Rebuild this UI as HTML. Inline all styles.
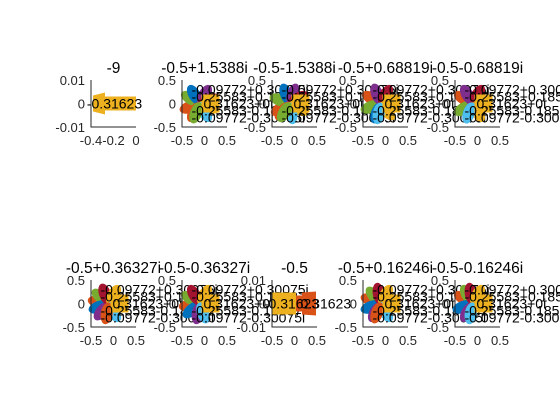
<!DOCTYPE html>
<html><head><meta charset="utf-8"><style>
body{margin:0;background:#fff}
svg{display:block;font-family:"Liberation Sans",sans-serif}
</style></head><body>
<svg id="fig" width="560" height="420" viewBox="0 0 560 420"></svg>
<script>
const titles=["-9","-0.5+1.5388i","-0.5-1.5388i","-0.5+0.68819i","-0.5-0.68819i","-0.5+0.36327i","-0.5-0.36327i","-0.5","-0.5+0.16246i","-0.5-0.16246i"];
const kinds=["bar1","cluster","cluster","cluster","cluster","cluster","cluster","bar2","cluster","cluster"];
const yTickSmall=["0.01","0","-0.01"];
const yTickBig=["0.5","0","-0.5"];
const xTickA=["-0.4","-0.2","0"];
const xTickB=["-0.5","0","0.5"];
const petalAngles=[[200,150,120,60,20,-20,-60,-120,250],[210,160,110,70,30,-30,-80,-130,240],[150,200,250,110,60,-50,-100],[150,210,250,120,60,-60,-110],[170,140,200,230,110,60,-60,-100],[190,150,220,260,120,60,-70],[160,130,200,240,100,60,-60,-110],[150,120,200,240,100,60,-100]];
const labels=["-0.09772+0.30075i","-0.25583+0.18587i","0.31623+0i","-0.25583-0.18587i","-0.09772-0.30075i"];
const colors=["#0072BD","#D95319","#EDB120","#7E2F8E","#77AC30","#4DBEEE","#A2142F"];
const svg=document.getElementById('fig');
const NS="http://www.w3.org/2000/svg";
function mk(t,a,p){const e=document.createElementNS(NS,t);for(const k in a)e.setAttribute(k,a[k]);(p||svg).appendChild(e);return e;}
const colX=[91,182,272,363,455], rowY=[80,280], W=45, H=47;
let ci=0;
titles.forEach((title,i)=>{
  const r=Math.floor(i/5), c=i%5, x0=colX[c], y0=rowY[r];
  const g=mk('g',{});
  
  
  const cx=x0+W/2, cy=y0+H/2;
  const k=kinds[i];
  if(k==="bar1"){
    mk('path',{d:`M${x0+2} ${cy-8} L${x0+14} ${cy-11} L${x0+14} ${cy-7} L${x0+W} ${cy-7} L${x0+W} ${cy+7} L${x0+14} ${cy+7} L${x0+14} ${cy+11} L${x0+2} ${cy+8}Z`,fill:colors[2]},g);
    const t=mk('text',{x:cx+1,y:cy+5,'font-size':14,'text-anchor':'middle',fill:'#000'},g);t.textContent="-0.31623";
  } else if(k==="bar2"){
    mk('path',{d:`M${x0} ${cy-11} L${x0+24} ${cy-11} L${x0+24} ${cy+11} L${x0} ${cy+11}Z`,fill:colors[2]},g);
    mk('path',{d:`M${x0+24} ${cy-8} L${x0+30} ${cy-8} L${x0+30} ${cy-11} L${x0+44} ${cy-12} L${x0+44} ${cy+12} L${x0+30} ${cy+11} L${x0+30} ${cy+8} L${x0+24} ${cy+8}Z`,fill:colors[1]},g);
    const t=mk('text',{x:cx-3,y:cy+5,'font-size':14,'text-anchor':'middle',fill:'#000'},g);t.textContent="-0.31623";
    const t2=mk('text',{x:cx+6,y:cy+5,'font-size':14,'text-anchor':'start',fill:'#000'},g);t2.textContent="0.31623";
  } else {
    const angs=petalAngles[ci++];
    const pcx=cx-5;
    angs.forEach((a,j)=>{
      const px=pcx+10*Math.cos(a*Math.PI/180), py=cy-10*Math.sin(a*Math.PI/180);
      const e=mk('ellipse',{cx:px,cy:py,rx:11,ry:6,fill:colors[(j*3+1)%7],transform:`rotate(${-a} ${px} ${py})`},g);
      
      
    });
    mk('rect',{x:pcx+2,y:cy-9,width:18,height:18,fill:colors[2]},g);
    labels.forEach((l,j)=>{
      const t=mk('text',{x:pcx-8+(j===2?12:0),y:cy-14+j*7+5,'font-size':14,fill:'#000'},g);t.textContent=l;
    });
  }
  mk('path',{d:`M${x0} ${y0} L${x0} ${y0+H} L${x0+W} ${y0+H}`,stroke:'#262626','stroke-width':1,fill:'none'},g);
  const yt=(k==="bar1"||k==="bar2")?yTickSmall:yTickBig;
  yt.forEach((s,j)=>{const t=mk('text',{x:x0-6,y:y0+5+j*H/2,'font-size':13,'text-anchor':'end',fill:'#262626'},g);t.textContent=s;});
  const xt=k==="bar1"?xTickA:xTickB;
  xt.forEach((s,j)=>{const t=mk('text',{x:x0+j*W/2,y:y0+H+18,'font-size':13,'text-anchor':'middle',fill:'#262626'},g);t.textContent=s;});
  const tt=mk('text',{x:cx,y:y0-7,'font-size':15.5,'text-anchor':'middle',fill:'#000'},g);tt.textContent=title;
  
  
});
</script>
</body></html>
